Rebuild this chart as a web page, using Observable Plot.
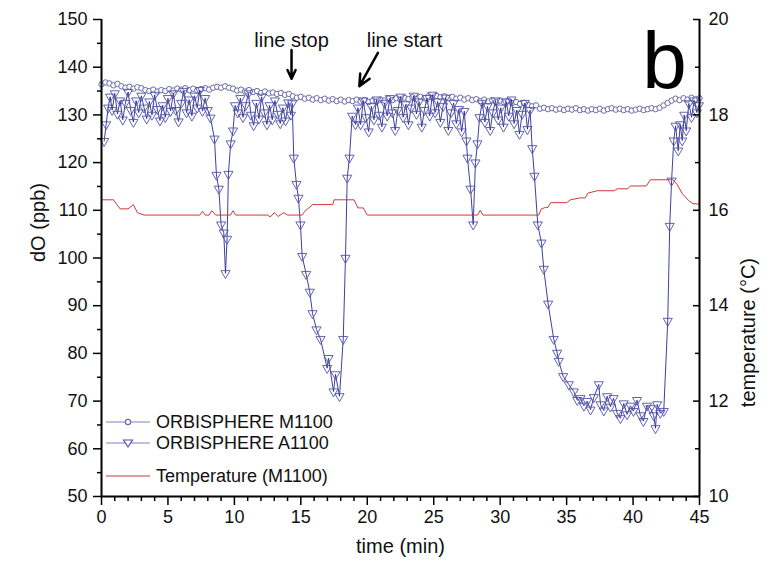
<!DOCTYPE html>
<html><head><meta charset="utf-8">
<script src="https://cdn.jsdelivr.net/npm/d3@7"></script>
<script src="https://cdn.jsdelivr.net/npm/@observablehq/plot@0.6"></script>
<style>
body{margin:0;background:#fff;}
#wrap{position:relative;width:767px;height:570px;font-family:"Liberation Sans",Arial,sans-serif;}
.leg{position:absolute;left:106px;display:flex;align-items:center;font-size:18px;color:#111;line-height:20px;}
.leg svg{margin-right:4px;}
</style></head><body><div id="wrap"></div>
<script>
// ORBISPHERE M1100 (circles), dO in ppb
const m1100Time = [0,0.3,0.6,0.9,1.2,1.5,1.8,2.1,2.4,2.7,3,3.3,3.6,3.9,4.2,4.5,4.8,5.1,5.4,5.7,6,6.3,6.6,6.9,7.2,7.5,7.8,8.1,8.4,8.7,9,9.3,9.6,9.9,10.2,10.5,10.8,11.1,11.4,11.7,12,12.3,12.6,12.9,13.2,13.5,13.8,14.1,14.4,14.7,15,15.3,15.6,15.9,16.2,16.5,16.8,17.1,17.4,17.7,18,18.3,18.6,18.9,19.2,19.5,19.8,20.1,20.4,20.7,21,21.3,21.6,21.9,22.2,22.5,22.8,23.1,23.4,23.7,24,24.3,24.6,24.9,25.2,25.5,25.8,26.1,26.4,26.7,27,27.3,27.6,27.9,28.2,28.5,28.8,29.1,29.4,29.7,30,30.3,30.6,30.9,31.2,31.5,31.8,32.1,32.4,32.7,33,33.3,33.6,33.9,34.2,34.5,34.8,35.1,35.4,35.7,36,36.3,36.6,36.9,37.2,37.5,37.8,38.1,38.4,38.7,39,39.3,39.6,39.9,40.2,40.5,40.8,41.1,41.4,41.7,42,42.3,42.6,42.9,43.2,43.5,43.8,44.1,44.4,44.7,45];
const m1100DO = [136.4,136.8,136.6,136.2,136.5,136.0,135.7,135.9,135.5,135.8,
135.6,135.2,135.0,135.3,134.9,135.2,135.0,135.4,135.1,135.5,
135.3,135.6,135.2,135.5,135.1,135.4,135.6,135.3,135.7,135.9,
135.7,136.0,135.7,135.5,135.1,135.3,134.9,135.2,134.8,135.0,
134.6,134.9,134.5,134.7,134.4,134.6,134.2,134.4,133.9,133.6,
133.8,133.4,133.6,133.2,133.5,133.1,133.4,133.0,133.3,132.9,
133.2,132.8,133.1,132.9,133.2,132.8,133.1,132.7,133.0,132.8,
133.2,133.0,133.4,133.1,133.5,133.2,133.6,133.3,133.7,133.4,
133.8,133.5,133.9,133.6,134.0,133.7,133.9,133.5,133.8,133.4,
133.6,133.2,133.5,133.1,133.3,132.9,133.2,132.8,133.1,132.7,
133.0,132.6,132.9,132.5,132.7,132.3,132.5,132.1,131.8,132.0,
131.3,131.5,131.2,131.4,131.1,131.3,131.0,131.3,131.1,131.4,
131.0,131.2,130.9,131.2,131.0,131.3,130.9,131.2,131.4,131.1,
131.3,131.0,131.2,130.9,131.1,131.3,131.0,131.2,131.4,131.2,
131.5,132.0,132.5,133.0,133.4,133.1,133.5,133.2,133.6,133.3,
133.5];

// ORBISPHERE A1100 (triangles), dO in ppb
const a1100Time = [0.2,0.35,0.5,0.65,0.8,1.0,1.2,1.4,1.6,1.8,2.0,2.2,2.4,2.6,2.8,3.0,3.2,3.4,3.6,3.8,4.0,4.2,4.4,4.6,4.8,5.0,5.2,5.4,5.6,5.8,6.0,6.2,6.4,6.6,6.8,7.0,7.2,7.4,7.6,7.8,8.0,
8.2,8.5,8.65,8.83,9.0,9.2,9.33,9.45,9.55,9.72,9.9,10.05,
10.25,10.45,10.65,10.85,11.05,11.25,11.45,11.65,11.85,12.05,12.25,12.45,12.65,12.85,13.05,13.25,13.45,13.65,13.85,14.05,14.25,
14.35,14.47,14.67,14.82,14.97,15.1,15.4,15.67,15.88,16.18,16.48,16.98,17.08,17.46,17.61,17.91,18.19,18.36,18.49,18.66,18.86,19.11,
19.3,19.5,19.7,19.9,20.1,20.3,20.5,20.7,20.9,21.1,21.3,21.5,21.7,21.9,22.1,22.3,22.5,22.7,22.9,23.1,23.3,23.5,23.7,23.9,24.1,24.3,24.5,24.7,24.9,25.1,25.3,25.5,25.7,25.9,26.1,26.3,26.5,26.7,26.9,27.1,27.3,
27.46,27.54,27.77,27.97,28.14,28.29,28.45,
28.65,28.85,29.05,29.25,29.45,29.65,29.85,30.05,30.25,30.45,30.65,30.85,31.05,31.25,31.45,31.65,31.85,32.05,32.25,
32.41,32.58,32.83,33.11,33.28,33.61,34.03,34.29,34.41,34.74,35.16,35.54,35.8,36.04,36.3,36.55,36.8,37.05,37.42,37.55,37.8,38.05,38.3,38.53,38.8,39.05,39.3,39.55,39.8,40.03,40.3,40.55,40.78,41.05,41.31,41.55,41.69,41.81,42.05,42.31,
42.61,42.76,42.9,43.06,43.2,43.4,43.55,43.7,43.85,44.0,44.2,44.4,44.6,44.8,44.95];
const a1100DO = [124.5,128.0,131.5,133.8,131.0,134.5,130.2,133.0,129.0,132.5,134.8,131.0,128.5,133.0,130.5,134.0,131.5,129.2,132.8,130.0,134.2,131.2,128.8,132.0,129.5,133.5,130.8,134.5,131.0,128.6,132.5,135.0,130.5,133.2,129.8,134.0,131.5,135.2,130.8,133.5,131.0,
129.4,125.0,117.4,114.5,107.0,105.3,96.8,104.0,117.6,124.0,126.7,132.0,
130.5,133.5,129.5,132.0,134.5,130.0,127.8,132.5,129.2,133.8,130.5,128.0,132.0,129.0,133.0,130.2,128.2,131.5,128.8,132.6,130.0,
132.4,121.0,115.5,112.6,107.0,100.4,96.6,92.9,88.4,85.0,83.0,76.9,79.0,72.0,75.6,71.0,83.0,100.0,116.8,121.0,129.8,128.0,
131.5,128.0,133.0,129.5,126.5,131.8,129.0,133.2,130.0,127.5,132.5,129.8,133.5,130.5,126.8,131.0,133.8,129.5,132.2,128.0,131.5,134.0,130.2,132.8,127.5,131.0,133.5,129.8,134.2,130.5,132.8,128.5,131.8,133.6,126.8,130.5,132.5,128.2,131.2,126.5,130.8,
124.6,121.0,114.5,107.0,120.0,124.0,129.5,
132.5,128.5,131.8,126.8,130.5,133.0,129.0,131.5,127.5,132.8,129.8,133.2,128.2,131.0,126.0,130.2,132.5,127.0,131.0,
123.0,117.2,107.0,103.2,97.7,90.4,83.0,80.1,78.4,75.2,73.5,72.0,70.2,70.6,69.0,70.0,68.2,70.8,73.5,69.3,68.0,71.0,68.8,70.6,67.5,66.4,69.5,67.2,69.0,67.9,70.2,67.0,65.8,69.0,68.5,67.0,64.3,69.3,67.5,67.9,
86.8,106.7,116.2,124.6,127.7,122.5,128.0,124.6,130.0,126.7,132.4,129.5,133.0,130.5,132.0];

// Temperature (M1100), °C
const tempTime = [0,0.9,1.4,2.0,2.4,2.7,3.2,7.4,7.6,7.8,8.1,8.3,8.6,9.7,9.9,10.1,12.5,12.7,13.0,13.3,13.7,14.0,15.1,15.3,15.6,15.9,16.3,17.4,17.5,19.0,19.3,19.7,20.0,28.3,28.5,28.7,32.9,33.1,33.4,33.6,33.8,35.0,35.3,36.0,36.4,36.6,37.3,38.6,38.8,39.6,39.8,41.0,41.3,43.0,43.3,43.7,44.2,44.5,45];
const tempC = [16.22,16.22,16.03,16.03,16.12,15.95,15.9,15.9,15.98,15.9,15.9,15.99,15.9,15.9,15.99,15.9,15.9,15.86,15.95,15.87,15.95,15.9,15.9,15.98,16.05,16.12,16.12,16.12,16.22,16.22,16.05,16.05,15.9,15.9,16.0,15.9,15.9,16.03,16.06,16.06,16.16,16.16,16.22,16.26,16.26,16.36,16.41,16.41,16.45,16.45,16.51,16.51,16.64,16.64,16.55,16.35,16.2,16.14,16.13];

// axes
const xMajor = [0,5,10,15,20,25,30,35,40,45];
const xMinor = [1,2,3,4,6,7,8,9,11,12,13,14,16,17,18,19,21,22,23,24,26,27,28,29,31,32,33,34,36,37,38,39,41,42,43,44];
const yMajor = [50,60,70,80,90,100,110,120,130,140,150];
const yMinor = [55,65,75,85,95,105,115,125,135,145];
const tempMajor = [10,12,14,16,18,20];
const tempMinor = [11,13,15,17,19];

// annotations
const annoLabel = ["line stop","line start"];
const annoX = [14.3,22.8];
const annoY = [145.6,145.6];
const arrowX1 = [14.3,20.8], arrowY1 = [143.6,143.0], arrowX2 = [14.3,19.4], arrowY2 = [137.6,136.0];
const panelLabel = "b", panelX = 40.7, panelY = 135.7;

const toPPB = c => 50 + (c - 10) * 10;

const m1100 = m1100Time.map((t,i) => ({t, v: m1100DO[i]}));
const a1100 = a1100Time.map((t,i) => ({t, v: a1100DO[i]}));
const temp = tempTime.map((t,i) => ({t, v: tempC[i]}));
const annos = annoLabel.map((s,i) => ({s, x: annoX[i], y: annoY[i]}));
const arrows = arrowX1.map((x1,i) => ({x1, y1: arrowY1[i], x2: arrowX2[i], y2: arrowY2[i]}));

const font = '"Liberation Sans", Arial, sans-serif';
const cM = "#6a6aa6", cA = "#5050ae", cAl = "#2a2a90", cT = "#cc3a3a";

const chart = Plot.plot({
  width: 767, height: 570,
  marginLeft: 101, marginRight: 68, marginTop: 19, marginBottom: 74,
  style: {fontFamily: font, fontSize: "18px", color: "#111", background: "#fff", overflow: "visible"},
  x: {domain: [0,45]},
  y: {domain: [50,150]},
  marks: [
    Plot.line(m1100, {x: "t", y: "v", stroke: cM, strokeWidth: 0.8}),
    Plot.dot(m1100, {x: "t", y: "v", r: 2.7, stroke: cM, strokeWidth: 1, fill: "#fff"}),
    Plot.line(a1100, {x: "t", y: "v", stroke: cAl, strokeWidth: 0.9}),
    Plot.dot(a1100, {x: "t", y: "v", symbol: "triangle", rotate: 180, r: 3.4, stroke: cA, strokeWidth: 0.9, fill: "none"}),
    Plot.line(temp, {x: "t", y: d => toPPB(d.v), stroke: cT, strokeWidth: 1}),
    // frame
    Plot.ruleY([50], {stroke: "#000", strokeWidth: 2}),
    Plot.ruleX([0], {stroke: "#000", strokeWidth: 2}),
    Plot.ruleX([45], {stroke: "#000", strokeWidth: 2}),
    // x axis
    Plot.axisX({ticks: xMajor, tickSize: 9, tickPadding: 5, tickFormat: d => String(d), label: null, stroke: "#000", strokeWidth: 1.5, fontSize: 18}),
    Plot.axisX({ticks: xMinor, tickSize: 5, tickFormat: () => "", label: null, stroke: "#000", strokeWidth: 1.5}),
    // left axis
    Plot.axisY({ticks: yMajor, tickSize: 8, tickPadding: 6, tickFormat: d => String(d), label: null, stroke: "#000", strokeWidth: 1.5, fontSize: 18}),
    Plot.axisY({ticks: yMinor, tickSize: 4, tickFormat: () => "", label: null, stroke: "#000", strokeWidth: 1.5}),
    // right axis (temperature)
    Plot.axisY({anchor: "right", ticks: tempMajor.map(toPPB), tickSize: -7, tickPadding: 16, tickFormat: v => String(Math.round((v - 50) / 10 + 10)), label: null, stroke: "#000", strokeWidth: 1.5, fontSize: 18}),
    Plot.axisY({anchor: "right", ticks: tempMinor.map(toPPB), tickSize: -5, tickFormat: () => "", label: null, stroke: "#000", strokeWidth: 1.5}),
    // axis titles
    Plot.text(["time (min)"], {frameAnchor: "bottom", dy: 56, text: d => d, fontSize: 20, fill: "#111"}),
    Plot.text(["dO (ppb)"], {frameAnchor: "left", dx: -63, dy: 4, rotate: -90, text: d => d, fontSize: 20, fill: "#111"}),
    Plot.text(["temperature (°C)"], {frameAnchor: "right", dx: 49, rotate: -90, text: d => d, fontSize: 20, fill: "#111"}),
    // annotations
    Plot.text(annos, {x: "x", y: "y", text: "s", fontSize: 20, fill: "#111"}),
    Plot.arrow(arrows, {x1: "x1", y1: "y1", x2: "x2", y2: "y2", stroke: "#000", strokeWidth: 2.5, headLength: 9, headAngle: 50}),
    Plot.text([panelLabel], {x: panelX, y: panelY, text: d => d, fontSize: 80, textAnchor: "start", lineAnchor: "bottom", fill: "#000"})
  ]
});

const wrap = document.getElementById("wrap");
wrap.appendChild(chart);

// legend (inside the plot area, lower left)
const legend = [
  {label: "ORBISPHERE M1100", kind: "circle", top: 412},
  {label: "ORBISPHERE A1100", kind: "triangle", top: 433},
  {label: "Temperature (M1100)", kind: "line", top: 466}
];
for (const e of legend) {
  const row = document.createElement("div");
  row.className = "leg";
  row.style.top = e.top + "px";
  let sym = "";
  if (e.kind === "circle") sym = `<line x1="0" y1="10" x2="44" y2="10" stroke="#8080c0" stroke-width="1"/><circle cx="22" cy="10" r="2.6" fill="#fff" stroke="${cM}" stroke-width="1.2"/>`;
  if (e.kind === "triangle") sym = `<line x1="0" y1="10" x2="44" y2="10" stroke="#8080c0" stroke-width="1"/><path d="M17.5,7 L26.5,7 L22,14 Z" fill="#fff" stroke="${cA}" stroke-width="1.2"/>`;
  if (e.kind === "line") sym = `<line x1="0" y1="10" x2="44" y2="10" stroke="${cT}" stroke-width="1"/>`;
  row.innerHTML = `<svg width="46" height="20">${sym}</svg><span>${e.label}</span>`;
  wrap.appendChild(row);
}
</script></body></html>
